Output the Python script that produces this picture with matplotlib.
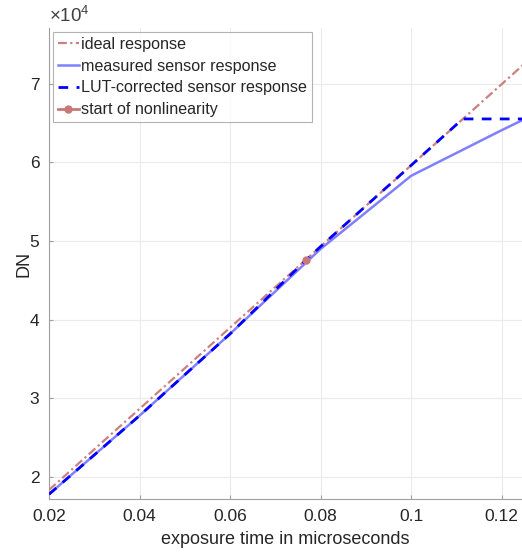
import matplotlib
matplotlib.use("Agg")
import matplotlib.pyplot as plt

plt.rcParams['font.family'] = ['Liberation Sans', 'DejaVu Sans']
plt.rcParams['mathtext.fontset'] = 'custom'
plt.rcParams['mathtext.rm'] = 'Liberation Sans'
plt.rcParams['mathtext.it'] = 'Liberation Sans'

# Data (DN values)
ideal_t = [0.02, 0.13]
ideal_dn = [18350, 75110]

meas_t = [0.02, 0.04, 0.06, 0.08, 0.10, 0.12, 0.13]
meas_dn = [17800, 27800, 38200, 49000, 58300, 64100, 66900]

lut_t = [0.02, 0.04, 0.06, 0.0768, 0.08, 0.10, 0.1114, 0.12, 0.13]
lut_dn = [17800, 27800, 38200, 47600, 49300, 59630, 65535, 65535, 65535]

nl_t = [0.0768]
nl_dn = [47600]

scale = 1e4
xticks = [0.02, 0.04, 0.06, 0.08, 0.1, 0.12]
xticklabels = ['0.02', '0.04', '0.06', '0.08', '0.1', '0.12']
yticks = [2, 3, 4, 5, 6, 7]

fig = plt.figure(figsize=(5.22, 5.52), dpi=100)
ax = fig.add_axes([49/522, 1-499/552, 1-49/522, (499-28)/552])

c_ideal = '#CC8080'
ax.plot(ideal_t, [v/scale for v in ideal_dn], color=c_ideal, lw=1.6,
        linestyle=(0, (4, 1.5, 1, 1.5)), label='ideal response', zorder=3)
ax.plot(meas_t, [v/scale for v in meas_dn], color='#8080FF', lw=1.8,
        label='measured sensor response', zorder=2)
ax.plot(lut_t, [v/scale for v in lut_dn], color='#0000FF', lw=2.0,
        linestyle=(0, (3.5, 3)), label='LUT-corrected sensor response', zorder=4)
ax.plot(nl_t, [v/scale for v in nl_dn], color='#C87878', lw=2.0, marker='o',
        markersize=5, label='start of nonlinearity', zorder=5)

ax.set_xlim(0.02, 0.1245)
ax.set_ylim(1.72, 7.71)
ax.set_xticks(xticks)
ax.set_xticklabels(xticklabels)
ax.set_yticks(yticks)

ax.grid(True, color='#EBEBEB', lw=0.8)
ax.set_axisbelow(True)
for s in ['top', 'right']:
    ax.spines[s].set_visible(False)
for s in ['left', 'bottom']:
    ax.spines[s].set_color('#A0A0A0')
    ax.spines[s].set_linewidth(0.8)
ax.tick_params(direction='in', length=3, color='#A0A0A0', labelsize=12.5,
               labelcolor='#262626', pad=7)

ax.set_xlabel('exposure time in microseconds', fontsize=13, color='#262626', labelpad=5)
ax.set_ylabel('DN', fontsize=13, color='#262626', labelpad=-2)
ax.text(0.0, 1.005, r'$\times10^{4}$', transform=ax.transAxes, fontsize=13.5,
        color='#404040', ha='left', va='bottom')

leg = ax.legend(loc='upper left', fontsize=11.6, frameon=True, fancybox=False,
                edgecolor='#A0A0A0', handlelength=1.3, handletextpad=0.15,
                borderaxespad=0.25, labelspacing=0.42, borderpad=0.3)
leg.get_frame().set_linewidth(0.8)
for t in leg.get_texts():
    t.set_color('#262626')

fig.savefig('out.png', dpi=100)
